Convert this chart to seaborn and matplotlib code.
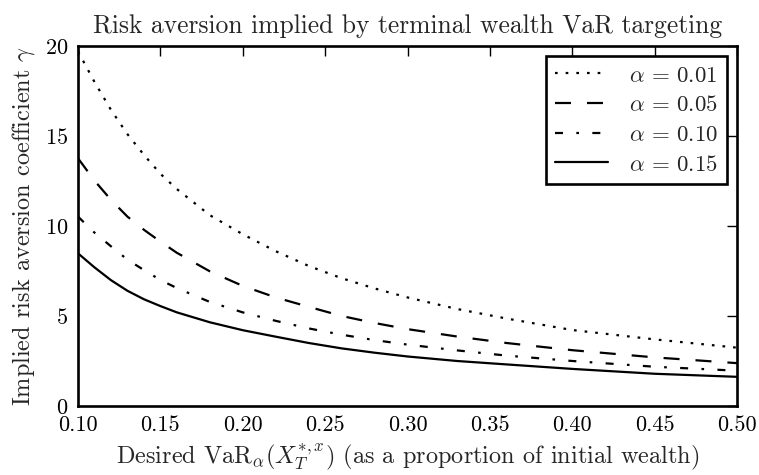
import matplotlib
matplotlib.use("Agg")
import matplotlib.pyplot as plt
import seaborn as sns
import pandas as pd
from matplotlib.ticker import FormatStrFormatter, MultipleLocator

# Desired VaR as a proportion of initial wealth (x axis)
var_level = [0.10, 0.11, 0.12, 0.13, 0.14, 0.15, 0.16, 0.18, 0.20, 0.22, 0.24,
             0.26, 0.28, 0.30, 0.33, 0.36, 0.40, 0.45, 0.50]

# Implied risk aversion coefficient
gamma_001 = [19.7, 18.0, 16.45, 15.1, 13.95, 12.9, 12.05, 10.6, 9.54, 8.6, 7.78,
             7.1, 6.53, 6.03, 5.39, 4.86, 4.22, 3.7, 3.24]
gamma_005 = [13.76, 12.52, 11.45, 10.52, 9.79, 9.13, 8.51, 7.48, 6.67, 6.03, 5.51,
             5.0, 4.61, 4.27, 3.86, 3.5, 3.1, 2.7, 2.38]
gamma_010 = [10.52, 9.63, 8.87, 8.13, 7.55, 7.0, 6.55, 5.78, 5.2, 4.73, 4.31,
             3.96, 3.66, 3.41, 3.09, 2.8, 2.5, 2.18, 1.96]
gamma_015 = [8.48, 7.7, 6.99, 6.4, 5.93, 5.55, 5.2, 4.65, 4.21, 3.85, 3.5,
             3.2, 2.96, 2.75, 2.5, 2.31, 2.06, 1.79, 1.62]

series_labels = [r"$\alpha\,=\,0.01$", r"$\alpha\,=\,0.05$",
                 r"$\alpha\,=\,0.10$", r"$\alpha\,=\,0.15$"]
series_values = [gamma_001, gamma_005, gamma_010, gamma_015]
line_styles = [(0, (1.2, 3.6)), (0, (7.2, 7.2)), (0, (3.6, 6.0, 1.2, 6.0)), "-"]

sns.set_style("white")
plt.rcParams["font.family"] = "cmr10"
plt.rcParams["mathtext.fontset"] = "cm"
plt.rcParams["axes.formatter.use_mathtext"] = True
plt.rcParams["axes.unicode_minus"] = False

fig, ax = plt.subplots(figsize=(7.59, 4.75), dpi=100)
fig.subplots_adjust(left=0.1028, right=0.971, top=0.9032, bottom=0.1453)

for label, vals, ls in zip(series_labels, series_values, line_styles):
    df = pd.DataFrame({"x": var_level, "y": vals})
    sns.lineplot(data=df, x="x", y="y", ax=ax, color="black", lw=1.6,
                 linestyle=ls, label=label)

ax.set_xlim(0.10, 0.50)
ax.set_ylim(0, 20)
ax.xaxis.set_major_locator(MultipleLocator(0.05))
ax.xaxis.set_major_formatter(FormatStrFormatter("%.2f"))
ax.yaxis.set_major_locator(MultipleLocator(5))

for sp in ax.spines.values():
    sp.set_linewidth(1.9)
    sp.set_color("black")
ax.tick_params(direction="in", length=7, width=1.0, top=True, right=True,
               labelsize=16, pad=7, colors="black")

ax.set_title("Risk aversion implied by terminal wealth VaR targeting", fontsize=18.4, pad=9)
ax.set_xlabel(r"Desired VaR$_\alpha(X_T^{*,x})$ (as a proportion of initial wealth)",
              fontsize=17.5, labelpad=4)
ax.set_ylabel(r"Implied risk aversion coefficient $\gamma$", fontsize=17.5, labelpad=6)

leg = ax.legend(loc="upper right", fontsize=16.5, fancybox=False, frameon=True,
                edgecolor="black", handlelength=2.3, handletextpad=0.9,
                labelspacing=0.42, borderaxespad=0.45)
leg.get_frame().set_linewidth(1.9)
leg.get_frame().set_alpha(1)

fig.savefig("out.png", dpi=100)
